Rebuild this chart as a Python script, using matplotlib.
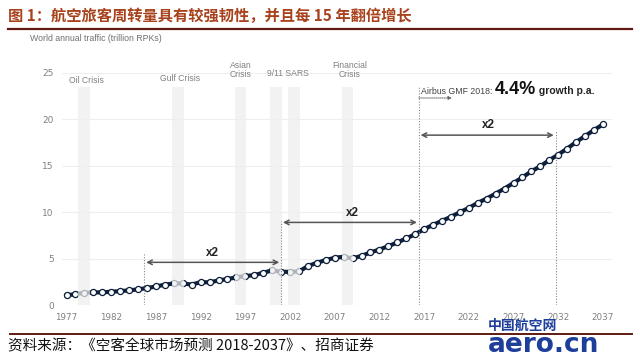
import matplotlib
matplotlib.use('Agg')
import matplotlib.pyplot as plt
from matplotlib.offsetbox import TextArea, HPacker, AnnotationBbox
import numpy as np

plt.rcParams['font.family'] = ['Noto Sans CJK SC', 'DejaVu Sans']

years = list(range(1977, 2038))
traffic = [1.04, 1.18, 1.32, 1.36, 1.37, 1.43, 1.50, 1.58, 1.69, 1.83,
           2.00, 2.19, 2.33, 2.33, 2.20, 2.47, 2.44, 2.65, 2.80, 2.98,
           3.12, 3.22, 3.48, 3.73, 3.58, 3.58, 3.62, 4.19, 4.55, 4.84,
           5.09, 5.20, 5.02, 5.30, 5.66, 5.98, 6.34, 6.74, 7.17, 7.63,
           8.17, 8.64, 9.07, 9.50, 10.0, 10.46, 11.0, 11.47, 12.0, 12.55,
           13.15, 13.75, 14.4, 14.95, 15.6, 16.2, 16.85, 17.55, 18.2, 18.85,
           19.45]

crisis_names = ['Oil Crisis', 'Gulf Crisis', 'Asian\nCrisis', '9/11 SARS', 'Financial\nCrisis']
crisis_label_x = [1979.2, 1989.7, 1996.5, 2001.8, 2008.7]
crisis_label_y = [24.2, 24.4, 25.3, 24.9, 25.3]
band_start = [1978.3, 1988.8, 1995.8, 1999.8, 2001.8, 2007.8]

doubling_years = [1985.7, 2001.0, 2016.4, 2031.7]
doubling_tops = [5.6, 9.1, 23.6, 18.8]
arrow_y = [4.6, 8.9, 18.3]
x2_pos = [(1993.3, 5.6), (2009.0, 9.9), (2024.2, 19.4)]

xticks = list(range(1977, 2038, 5))
yticks = [0, 5, 10, 15, 20, 25]

navy = '#0d1f3a'
gray_txt = '#808080'
title_col = '#a8421c'
rule_col = '#5e1a10'

fig = plt.figure(figsize=(6.4, 3.61), dpi=100)
ax = fig.add_axes([0.097, 0.155, 0.859, 0.643])

ax.plot(years, traffic, color=navy, lw=3.0, marker='o', ms=4.4,
        mfc='white', mec=navy, mew=0.9, zorder=3)

for b in band_start:
    ax.axvspan(b, b + 1.3, ymin=0, ymax=23.5 / 25, color='#eeeeee',
               alpha=0.72, lw=0, zorder=4)

for name, lx, ly in zip(crisis_names, crisis_label_x, crisis_label_y):
    ax.text(lx, ly, name, ha='center', va='center', fontsize=6.2,
            color=gray_txt, family='Liberation Sans', linespacing=1.0,
            clip_on=False)

for x, top in zip(doubling_years, doubling_tops):
    ax.plot([x, x], [0, top], color='#888888', lw=0.8, ls=(0, (1, 1.5)), zorder=5)

for i, y in enumerate(arrow_y):
    ax.annotate('', xy=(doubling_years[i] + 0.2, y), xytext=(doubling_years[i + 1] - 0.2, y),
                arrowprops=dict(arrowstyle='<->', color='#555555', lw=1.1,
                                mutation_scale=8, shrinkA=0, shrinkB=0), zorder=6)
for (x, y) in x2_pos:
    ax.text(x, y, 'x2', ha='center', va='center', fontsize=8.5, fontweight='bold',
            color='#222222', family='Liberation Sans', zorder=7)

# growth note
ax.annotate('', xy=(2020.1, 22.3), xytext=(2016.4, 22.3),
            arrowprops=dict(arrowstyle='-|>', color='#666666', lw=0.7, ls=(0, (1, 1)),
                            mutation_scale=5, shrinkA=0, shrinkB=0))
t1 = TextArea('Airbus GMF 2018: ', textprops=dict(fontsize=6.3, color='#444444', family='Liberation Sans'))
t2 = TextArea('4.4%', textprops=dict(fontsize=13, fontweight='bold', color='#111111', family='Liberation Sans'))
t3 = TextArea(' growth p.a.', textprops=dict(fontsize=7.5, fontweight='bold', color='#222222', family='Liberation Sans'))
box = HPacker(children=[t1, t2, t3], align='baseline', pad=0, sep=0)
ab = AnnotationBbox(box, (2016.7, 23.2), box_alignment=(0, 0.5), frameon=False,
                    annotation_clip=False)
ax.add_artist(ab)

ax.set_xlim(1976.5, 2038)
ax.set_ylim(0, 25)
ax.set_xticks(xticks)
ax.set_yticks(yticks)
ax.set_xticklabels([str(t) for t in xticks], fontsize=6.3, color=gray_txt, family='Liberation Sans Narrow')
ax.set_yticklabels([str(t) for t in yticks], fontsize=6.5, color=gray_txt, family='Liberation Sans Narrow')
ax.tick_params(length=0, pad=6)
ax.grid(axis='y', color='#eeeeee', lw=0.8)
ax.set_axisbelow(True)
for s in ax.spines.values():
    s.set_visible(False)

fig.text(0.047, 0.892, 'World annual traffic (trillion RPKs)', fontsize=6.3,
         color='#707070', family='Liberation Sans', va='center')

fig.text(0.013, 0.955, '图 1：航空旅客周转量具有较强韧性，并且每 15 年翻倍增长',
         fontsize=11, fontweight='bold', color=title_col, va='center')
fig.add_artist(plt.Line2D([0.012, 0.988], [0.92, 0.92], color=rule_col, lw=1.6))
fig.add_artist(plt.Line2D([0.016, 0.988], [0.075, 0.075], color=rule_col, lw=1.4))
fig.text(0.013, 0.04, '资料来源：《空客全球市场预测 2018-2037》、招商证券',
         fontsize=10.5, color='#111111', va='center')

# watermark
fig.text(0.762, 0.098, '中国航空网', fontsize=10, fontweight='bold', color='#1d3f9a', va='center')
fig.text(0.762, 0.045, 'aero.cn', fontsize=19, fontweight='bold', color='#1d3f9a',
         va='center', family='DejaVu Sans')

fig.savefig('out.png', dpi=100)
